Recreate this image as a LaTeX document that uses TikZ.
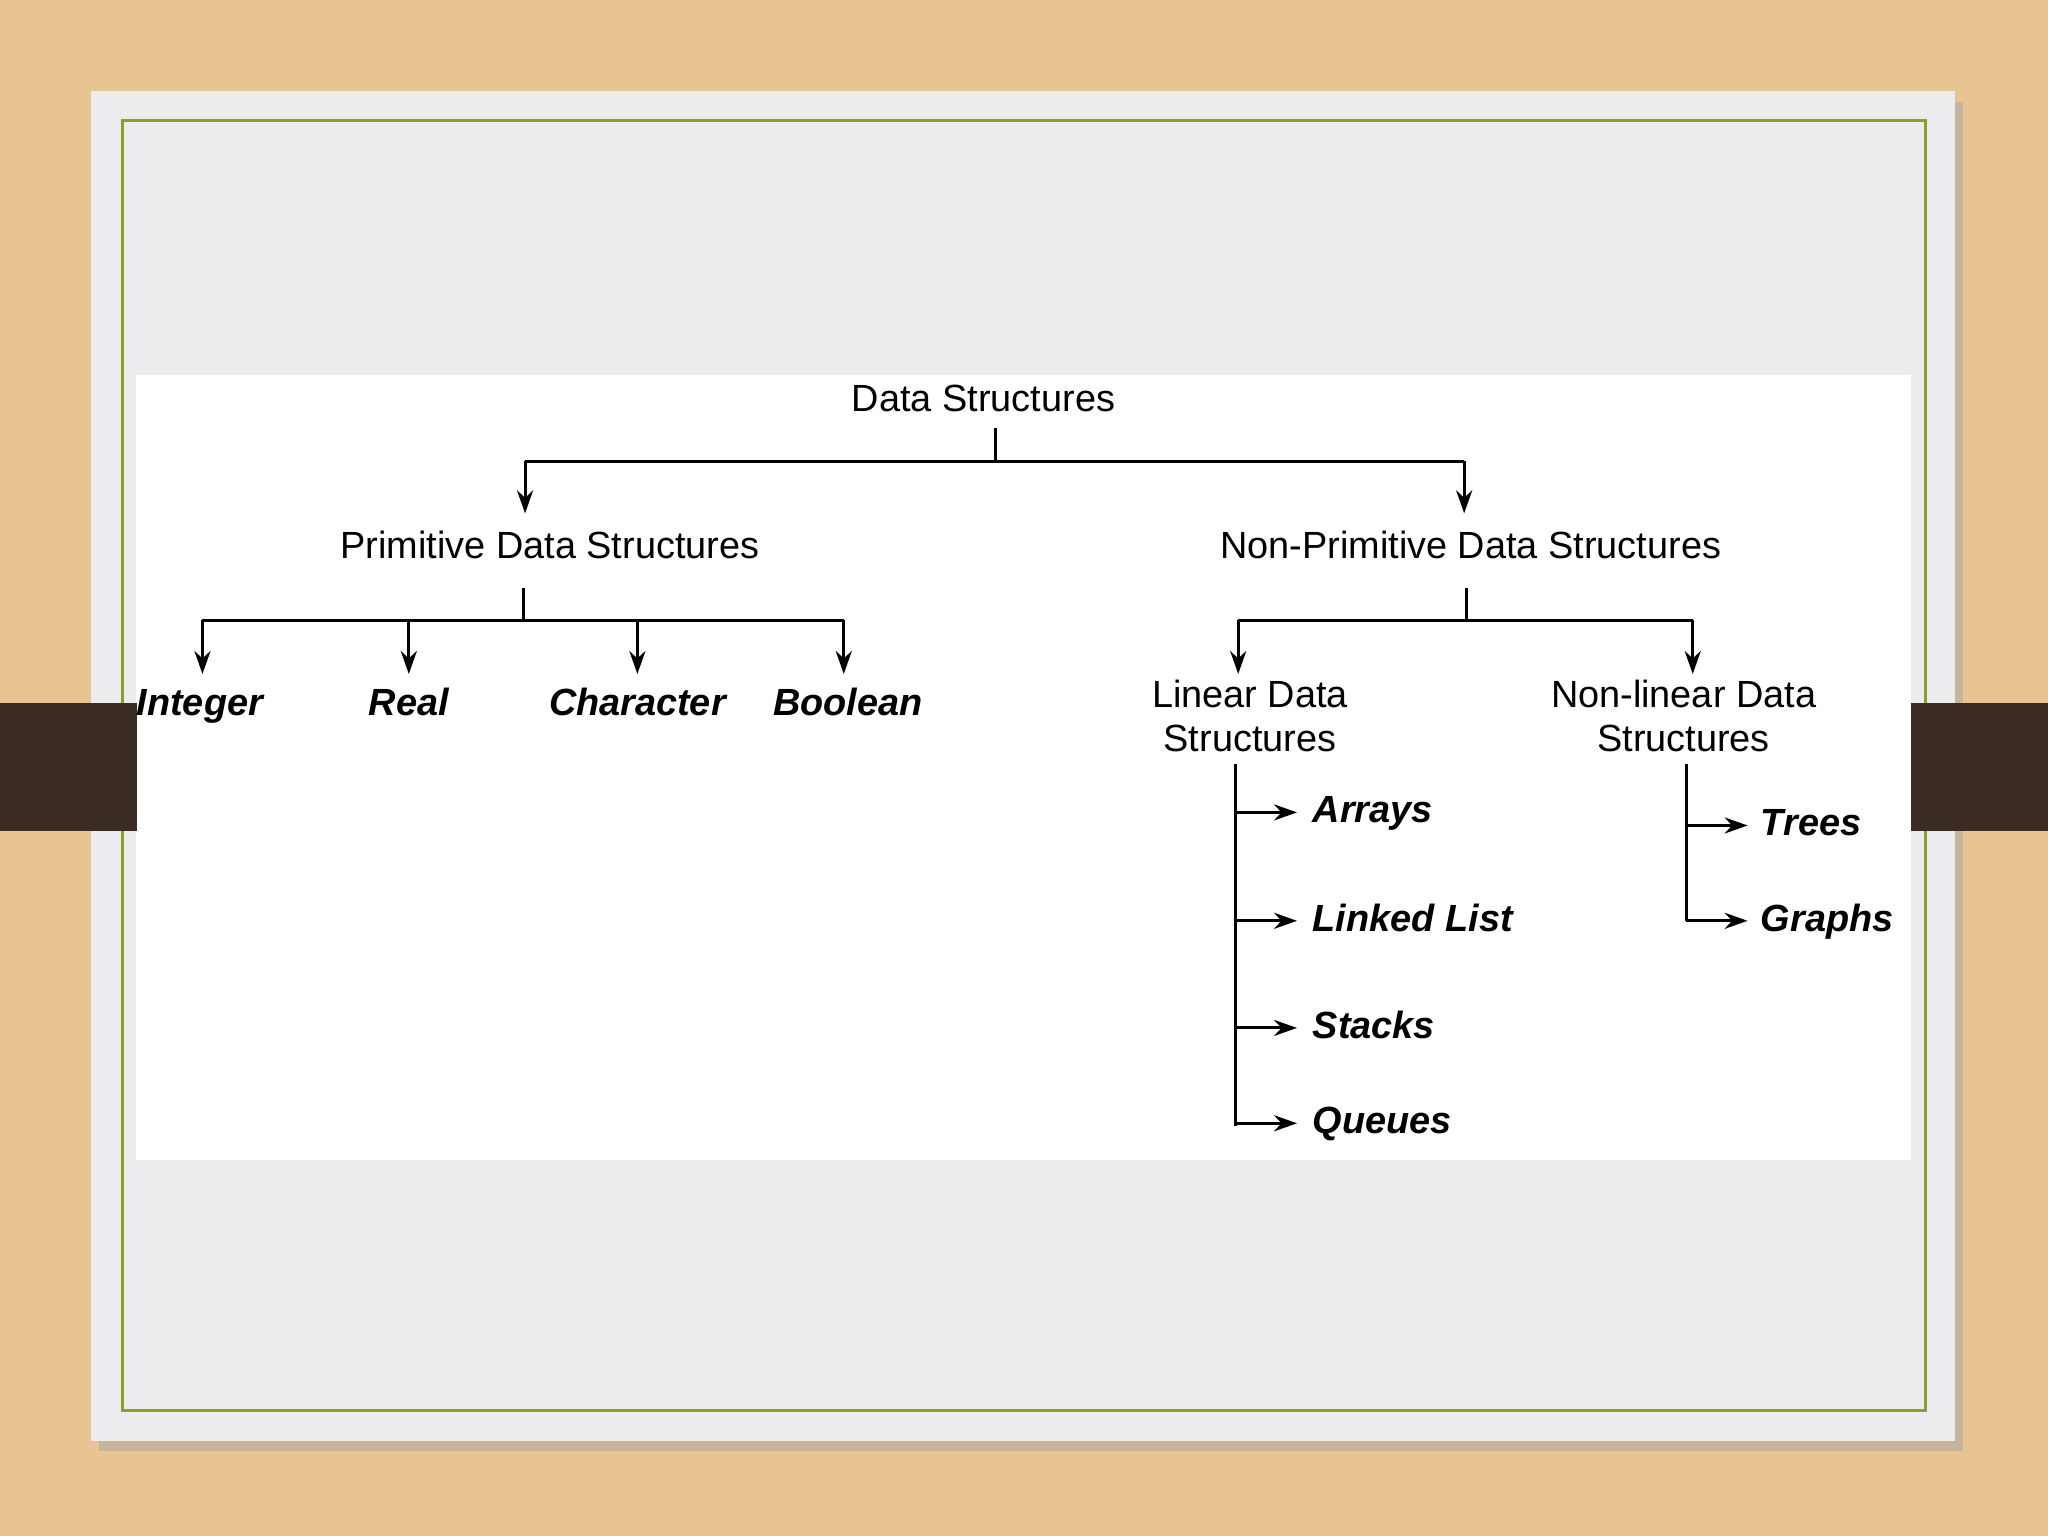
\documentclass[tikz,border=0pt]{standalone}
\usepackage{fontspec}
\setmainfont{Liberation Sans}
\usetikzlibrary{arrows.meta}
\definecolor{wood}{RGB}{232,196,146}
\definecolor{bar}{RGB}{58,44,36}
\definecolor{slide}{RGB}{236,236,238}
\definecolor{frame}{RGB}{140,160,40}
\tikzset{
 hd/.style={font=\fontsize{16.5}{19}\selectfont, align=center, inner sep=1pt},
 lf/.style={font=\fontsize{16.5}{19}\selectfont\bfseries\itshape, inner sep=1pt, anchor=base},
 ln/.style={line width=1.3pt},
 ar/.style={ln,-{Stealth[length=10pt,width=7pt]}}
}
\begin{document}
\begin{tikzpicture}[x=0.02cm,y=-0.02cm]
\useasboundingbox (0,0) rectangle (1568,1176);
\fill[wood] (0,0) rectangle (1568,1176);
\fill[black!35,opacity=0.5] (76,78) rectangle (1503,1111);
\fill[slide] (70,70) rectangle (1497,1103);
\draw[frame,line width=1.2pt] (94,92) rectangle (1474,1080);
\fill[white] (104,287) rectangle (1463,888);
\fill[bar] (0,538) rectangle (105,636);
\fill[bar] (1463,538) rectangle (1568,636);

\node[hd] (ds) at (753,305) {Data Structures};
\node[hd] (pr) at (421,417) {Primitive Data Structures};
\node[hd] (np) at (1126,417) {Non-Primitive Data Structures};
\draw[ln] (762,328) -- (762,353);
\draw[ln] (402,353) -- (1121,353);
\draw[ar] (402,353) -- (402,393);
\draw[ar] (1121,353) -- (1121,393);

\node[lf] (i) at (153,548) {Integer};
\node[lf] (r) at (313,548) {Real};
\node[lf] (c) at (488,548) {Character};
\node[lf] (b) at (649,548) {Boolean};
\draw[ln] (401,450) -- (401,475);
\draw[ln] (155,475) -- (646,475);
\foreach \x in {155,313,488,646} \draw[ar] (\x,475) -- (\x,516);

\node[hd] (lin) at (957,548) {Linear Data\\Structures};
\node[hd] (nl) at (1289,548) {Non-linear Data\\Structures};
\draw[ln] (1123,450) -- (1123,475);
\draw[ln] (948,475) -- (1296,475);
\draw[ar] (948,475) -- (948,516);
\draw[ar] (1296,475) -- (1296,516);

\draw[ln] (946,585) -- (946,862);
\foreach \y/\t in {622/Arrays,705/Linked List,787/Stacks,860/Queues}{
  \draw[ar] (946,\y) -- (993,\y);
  \node[lf,anchor=base west] at (1003,\y+8) {\t};}
\draw[ln] (1291,585) -- (1291,705);
\foreach \y/\t in {632/Trees,705/Graphs}{
  \draw[ar] (1291,\y) -- (1338,\y);
  \node[lf,anchor=base west] at (1346,\y+8) {\t};}
\end{tikzpicture}
\end{document}
